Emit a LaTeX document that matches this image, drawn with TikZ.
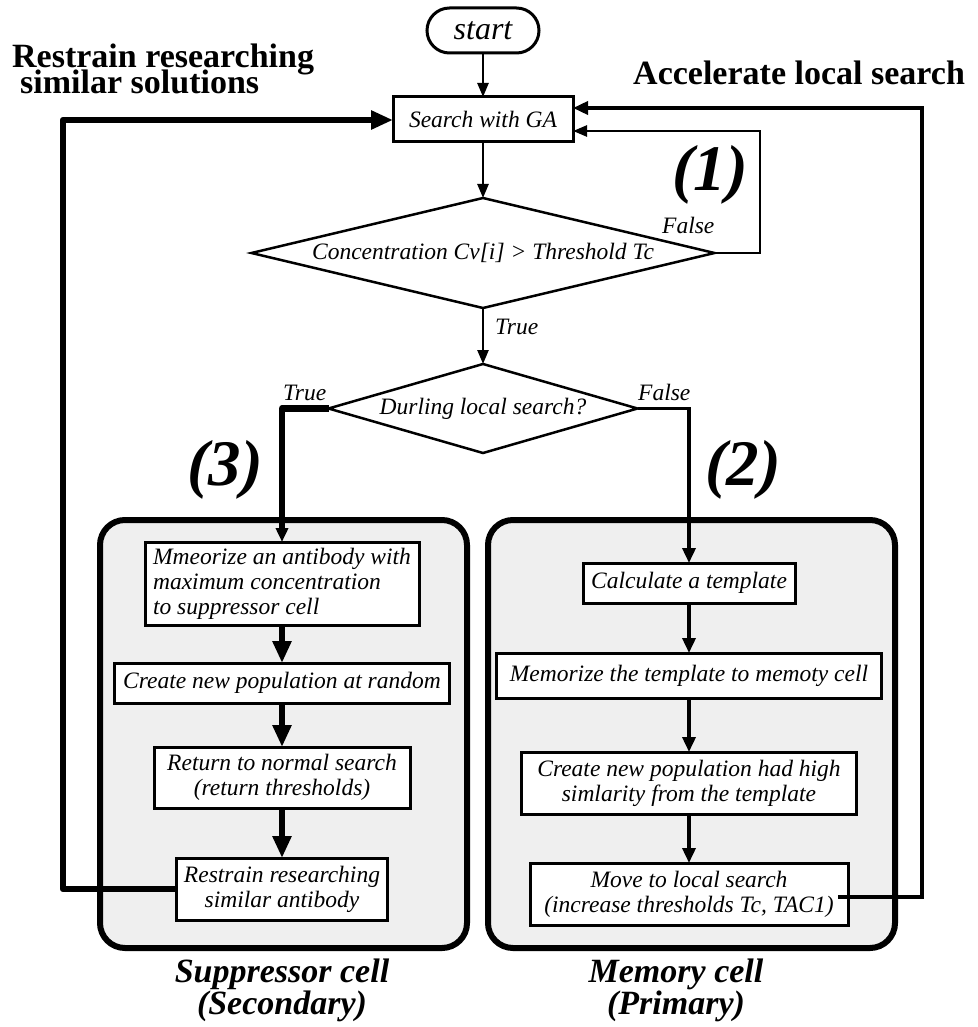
\documentclass[tikz,border=0pt]{standalone}
\usepackage{fontspec}
\setmainfont{Liberation Serif}
\usetikzlibrary{arrows.meta,shapes.geometric,shapes.misc}
\definecolor{cellgray}{RGB}{239,239,239}
% let lines of a heading sit closer than their glyphs would allow
\newcommand{\tightlines}{\lineskiplimit=-60pt\relax}
\begin{document}
\begin{tikzpicture}[x=1pt,y=-1pt,
  txt/.style={font=\fontsize{23.5}{25}\selectfont\itshape},
  box/.style={txt, draw, line width=3pt, fill=white, inner sep=0pt, outer sep=0pt, align=center},
  term/.style={rounded rectangle, draw, line width=3pt, fill=white, inner sep=0pt, outer sep=0pt,
    font=\fontsize{32}{34}\selectfont\itshape},
  cond/.style={txt, diamond, draw, line width=2.5pt, fill=white, inner sep=0pt, outer sep=0pt},
  cell/.style={draw, line width=6pt, rounded corners=25pt, fill=cellgray, inner sep=0pt, outer sep=0pt},
  hdr/.style={font=\fontsize{34}{26}\selectfont\bfseries\tightlines, inner sep=0pt},
  tag/.style={font=\fontsize{65}{65}\selectfont\bfseries\itshape, inner sep=0pt},
  caption/.style={font=\fontsize{34}{32}\selectfont\bfseries\itshape, align=center, inner sep=0pt},
  lbl/.style={txt, inner sep=0pt},
  flow/.style={line width=2.5pt, -{Triangle[length=14pt,width=11pt]}},
  midflow/.style={line width=3.5pt, -{Triangle[length=15pt,width=13pt]}},
  bigflow/.style={line width=6.5pt, line join=round, -{Triangle[length=22pt,width=18pt]}},
  thickbranch/.style={line width=6.5pt, line join=round, -{Triangle[length=14pt,width=12pt]}},
]
\useasboundingbox (0,0) rectangle (977,1027);
\fill[white] (0,0) rectangle (977,1027);

% the two cell panels
\node[cell, minimum width=367, minimum height=428] (suppcell) at (283.5,734) {};
\node[cell, minimum width=407, minimum height=428] (memcell) at (691.5,734) {};

% main loop
\node[term, minimum width=112, minimum height=45] (start) at (483,30.5) {start};
\node[box, minimum width=180, minimum height=45] (search) at (483,119.5) {Search with GA};
\node[cond, aspect=4.21, minimum width=463, minimum height=110] (cond1) at (483,253) {Concentration Cv[i] > Threshold Tc};
\node[cond, aspect=3.47, minimum width=309, minimum height=89] (cond2) at (483,408.5) {Durling local search?};

% suppressor cell steps
\node[box, minimum width=274, minimum height=83, align=left] (memab) at (282,583.5)
  {Mmeorize an antibody with\\maximum concentration\\to suppressor cell};
\node[box, minimum width=335, minimum height=40] (randpop) at (282,683) {Create new population at random};
\node[box, minimum width=256, minimum height=61] (normal) at (282,777.5) {Return to normal search\\(return thresholds)};
\node[box, minimum width=211, minimum height=62] (restrain) at (282,889) {Restrain researching\\similar antibody};

% memory cell steps
\node[box, minimum width=212, minimum height=40] (template) at (689,583) {Calculate a template};
\node[box, minimum width=385, minimum height=45] (memtpl) at (689,675.5) {Memorize the template to memoty cell};
\node[box, minimum width=335, minimum height=62] (simpop) at (689,783) {Create new population had high\\simlarity from the template};
\node[box, minimum width=318, minimum height=62] (local) at (689,894) {Move to local search\\(increase thresholds Tc, TAC1)};

% headings and tags
\node[hdr, anchor=north west, align=left] (hdrA) at (12,44) {Restrain researching\\\hspace*{8pt}similar solutions};
\node[hdr, anchor=base west] (hdrC) at (633,85) {Accelerate local search};
\node[tag] (tag1) at (710,175) {(1)};
\node[tag] (tag2) at (743,470) {(2)};
\node[tag] (tag3) at (225,470) {(3)};
\node[caption] (capS) at (282,990) {Suppressor cell\\(Secondary)};
\node[caption] (capM) at (676,990) {Memory cell\\(Primary)};

% branch labels
\node[lbl, anchor=base west] (f1) at (662,233) {False};
\node[lbl, anchor=base west] (t1) at (495,334) {True};
\node[lbl, anchor=base west] (t2) at (283,400) {True};
\node[lbl, anchor=base west] (f2) at (638,400) {False};

% connectors of the main loop
\draw[flow] (start.south) -- (search.north);
\draw[flow] (search.south) -- (cond1.north);
\draw[flow] (cond1.south) -- (cond2.north);
\coordinate (loopF) at (760,131);
\draw[flow] (cond1.east) -| (loopF) -- (search.east |- loopF);

% branches into the cells
\draw[thickbranch] (cond2.west) -| (memab.north);
\draw[midflow] (cond2.east) -| (template.north);

% suppressor chain
\draw[bigflow] (memab.south) -- (randpop.north);
\draw[bigflow] (randpop.south) -- (normal.north);
\draw[bigflow] (normal.south) -- (restrain.north);

% memory chain
\draw[midflow] (template.south) -- (memtpl.north);
\draw[midflow] (memtpl.south) -- (simpop.north);
\draw[midflow] (simpop.south) -- (local.north);

% feedback loops to the search
\coordinate (resB) at (63,120);
\draw[bigflow] (restrain.west) -| (resB) -- (search.west |- resB);
\coordinate (accA) at (838,897);
\coordinate (accB) at (922,108);
\draw[midflow] (accA) -| (accB) -- (search.east |- accB);
\end{tikzpicture}
\end{document}
